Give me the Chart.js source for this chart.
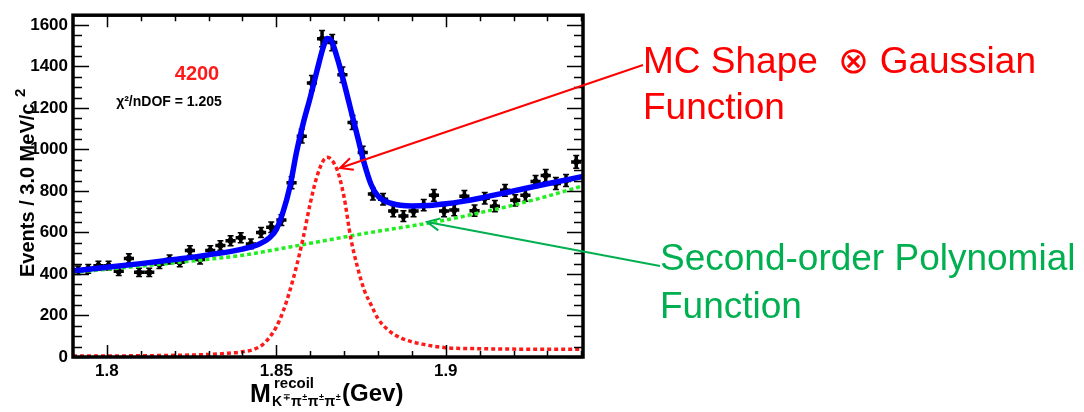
<!DOCTYPE html>
<html>
<head>
<meta charset="utf-8">
<script src="https://cdn.jsdelivr.net/npm/chart.js@4.4.0/dist/chart.umd.min.js"></script>
<style>
html, body { margin: 0; padding: 0; background: #fff; }
canvas { display: block; }
</style>
</head>
<body>
<canvas id="c" width="1084" height="412"></canvas>
<script>
// bin centres (3 MeV bins)
var binX = [1.7915,1.7945,1.7975,1.8005,1.8035,1.8065,1.8095,1.8125,1.8155,1.8185,
            1.8215,1.8245,1.8275,1.8305,1.8335,1.8365,1.8395,1.8425,1.8455,1.8485,
            1.8515,1.8545,1.8575,1.8605,1.8635,1.8665,1.8695,1.8725,1.8755,1.8785,
            1.8815,1.8845,1.8875,1.8905,1.8935,1.8965,1.8995,1.9025,1.9055,1.9085,
            1.9115,1.9145,1.9175,1.9205,1.9235,1.9265,1.9295,1.9325,1.9355,1.9385];
var events = [418,425,440,440,413,475,408,408,447,470,
              456,513,470,513,537,560,575,545,600,625,
              660,840,1064,1320,1534,1515,1360,1130,985,785,
              760,703,679,703,732,779,703,708,774,705,
              765,727,803,755,779,846,874,836,850,940];
var errors = [20,21,21,21,20,22,20,20,21,22,
              21,23,22,23,23,24,24,23,24,25,
              26,29,33,36,39,39,37,34,31,28,
              28,27,26,27,27,28,27,27,28,27,
              28,27,28,27,28,29,30,29,29,31];

// total fit (blue)
var fitX = [1.790,1.800,1.810,1.820,1.830,1.840,1.845,1.848,1.850,1.852,1.854,1.856,1.858,1.860,1.862,
            1.864,1.865,1.866,1.868,1.870,1.872,1.874,1.876,1.878,1.880,1.884,1.890,1.895,1.900,1.905,
            1.910,1.920,1.930,1.9405];
var fitY = [415,432,450,470,492,520,545,575,615,700,820,990,1130,1250,1380,
            1500,1535,1530,1440,1320,1190,1060,930,830,775,740,728,730,738,750,
            765,800,835,870];

// background polynomial (green)
var bkgX = [1.790,1.800,1.810,1.820,1.830,1.840,1.850,1.860,1.870,1.880,1.890,1.900,1.910,1.920,1.930,1.9405];
var bkgY = [408,423,438,454,471,490,518,548,578,606,632,660,695,732,775,825];

// signal shape (red)
var sigX = [1.790,1.800,1.810,1.820,1.830,1.835,1.840,1.843,1.846,1.848,1.850,1.852,1.854,1.856,1.858,
            1.860,1.862,1.864,1.865,1.866,1.868,1.870,1.872,1.874,1.876,1.878,1.880,1.883,1.887,1.893,
            1.900,1.910,1.920,1.9405];
var sigY = [5,5,6,8,12,17,25,35,60,95,145,220,320,440,580,
            740,870,950,962,955,900,770,570,430,320,250,185,130,90,62,
            45,40,38,37];

var yTicks = [0,200,400,600,800,1000,1200,1400,1600];
var xTicks = [1.8,1.85,1.9];

var FONT = '"Liberation Sans", Arial, Helvetica, sans-serif';

function pairs(xs, ys) {
    return xs.map(function(x, i) { return {x: x, y: ys[i]}; });
}

var rootStyle = {
    id: 'rootStyle',
    beforeDatasetsDraw: function(chart) {
        var ctx = chart.ctx, xs = chart.scales.x, ys = chart.scales.y;
        ctx.save();
        ctx.strokeStyle = '#000';
        binX.forEach(function(x, i) {
            var px = xs.getPixelForValue(x);
            var py = ys.getPixelForValue(events[i]);
            var top = ys.getPixelForValue(events[i] + errors[i]);
            var bot = ys.getPixelForValue(events[i] - errors[i]);
            var l = xs.getPixelForValue(x - 0.0015), r = xs.getPixelForValue(x + 0.0015);
            ctx.lineWidth = 3.5;
            ctx.beginPath();
            ctx.moveTo(px, top); ctx.lineTo(px, bot);
            ctx.moveTo(l, py); ctx.lineTo(r, py);
            ctx.stroke();
            ctx.lineWidth = 1.5;
            ctx.beginPath();
            ctx.moveTo(px - 3, top); ctx.lineTo(px + 3, top);
            ctx.moveTo(px - 3, bot); ctx.lineTo(px + 3, bot);
            ctx.stroke();
        });
        ctx.restore();
    },
    afterDraw: function(chart) {
        var ctx = chart.ctx, a = chart.chartArea, xs = chart.scales.x, ys = chart.scales.y;
        ctx.save();
        // frame
        ctx.strokeStyle = '#000';
        ctx.lineWidth = 3.5;
        ctx.strokeRect(a.left, a.top, a.right - a.left, a.bottom - a.top);
        // inward ticks
        ctx.lineWidth = 1.5;
        ctx.beginPath();
        for (var v = 0; v <= 1647; v += 50) {
            var py = Math.round(ys.getPixelForValue(v)) + 0.5;
            var len = (v % 200 === 0) ? 16 : 9;
            ctx.moveTo(a.left, py); ctx.lineTo(a.left + len, py);
            ctx.moveTo(a.right, py); ctx.lineTo(a.right - len, py);
        }
        for (var k = 180; k <= 194; k++) {
            var px = Math.round(xs.getPixelForValue(k / 100)) + 0.5;
            var l2 = (k % 5 === 0) ? 12 : 6;
            ctx.moveTo(px, a.bottom); ctx.lineTo(px, a.bottom - l2);
            ctx.moveTo(px, a.top); ctx.lineTo(px, a.top + l2);
        }
        ctx.stroke();

        // y axis title
        ctx.fillStyle = '#000';
        ctx.save();
        ctx.translate(34, 277);
        ctx.rotate(-Math.PI / 2);
        ctx.font = 'bold 20px ' + FONT;
        ctx.textAlign = 'left';
        ctx.textBaseline = 'alphabetic';
        ctx.fillText('Events / 3.0 MeV/c', 0, 0);
        ctx.font = 'bold 15px ' + FONT;
        ctx.fillText('2', 180, -9);
        ctx.restore();

        // x axis title
        ctx.textAlign = 'left';
        ctx.font = 'bold 25px ' + FONT;
        ctx.fillText('M', 250, 402);
        ctx.font = 'bold 15px ' + FONT;
        ctx.fillText('recoil', 274, 388);
        var sx = 272;
        var parts = [['K', 14, 0], ['\u2213', 9, -6], ['\u03c0', 14, 0], ['\u00b1', 9, -6],
                     ['\u03c0', 14, 0], ['\u00b1', 9, -6], ['\u03c0', 14, 0], ['\u00b1', 9, -6]];
        parts.forEach(function(p) {
            ctx.font = 'bold ' + p[1] + 'px ' + FONT;
            ctx.fillText(p[0], sx, 406 + p[2]);
            sx += ctx.measureText(p[0]).width + 0.5;
        });
        ctx.font = 'bold 24px ' + FONT;
        ctx.fillText('(Gev)', sx + 1, 401);

        // labels inside the frame
        ctx.textAlign = 'center';
        ctx.fillStyle = '#ff1a1a';
        ctx.font = 'bold 20px ' + FONT;
        ctx.fillText('4200', 197, 80);
        ctx.fillStyle = '#000';
        ctx.font = 'bold 14px ' + FONT;
        ctx.fillText('\u03c7\u00b2/nDOF = 1.205', 169, 106);

        // annotations
        function arrow(x1, y1, x2, y2, color) {
            ctx.strokeStyle = color;
            ctx.lineWidth = 2;
            ctx.beginPath();
            ctx.moveTo(x1, y1); ctx.lineTo(x2, y2);
            var ang = Math.atan2(y2 - y1, x2 - x1);
            var h = 14;
            ctx.moveTo(x2 - h * Math.cos(ang - 0.45), y2 - h * Math.sin(ang - 0.45));
            ctx.lineTo(x2, y2);
            ctx.lineTo(x2 - h * Math.cos(ang + 0.45), y2 - h * Math.sin(ang + 0.45));
            ctx.stroke();
        }
        arrow(643, 65, 340, 168, '#ff0000');
        arrow(660, 266, 427, 222, '#00b050');

        ctx.textAlign = 'left';
        ctx.font = '37px ' + FONT;
        ctx.fillStyle = '#ff0000';
        ctx.fillText('MC Shape  \u2297 Gaussian', 643, 73);
        ctx.fillText('Function', 643, 119);
        ctx.fillStyle = '#00b050';
        ctx.fillText('Second-order Polynomial', 660, 270);
        ctx.fillText('Function', 660, 318);
        ctx.restore();
    }
};

new Chart('c', {
    type: 'scatter',
    data: {
        datasets: [{
            label: 'data',
            data: pairs(binX, events),
            pointStyle: 'rect',
            pointRadius: 3,
            backgroundColor: '#000',
            borderColor: '#000',
            order: 4
        }, {
            label: 'background',
            data: pairs(bkgX, bkgY),
            showLine: true,
            borderColor: '#22ee22',
            borderWidth: 3.5,
            borderDash: [4, 3],
            pointRadius: 0,
            cubicInterpolationMode: 'monotone',
            order: 3
        }, {
            label: 'signal',
            data: pairs(sigX, sigY),
            showLine: true,
            borderColor: '#ff1a1a',
            borderWidth: 3.5,
            borderDash: [4, 3],
            pointRadius: 0,
            cubicInterpolationMode: 'monotone',
            order: 2
        }, {
            label: 'total',
            data: pairs(fitX, fitY),
            showLine: true,
            borderColor: '#0000ff',
            borderWidth: 5.5,
            pointRadius: 0,
            cubicInterpolationMode: 'monotone',
            order: 1
        }]
    },
    options: {
        responsive: false,
        animation: false,
        layout: { padding: { top: 9, right: 501, left: 0, bottom: 0 } },
        plugins: {
            legend: { display: false },
            tooltip: { enabled: false }
        },
        scales: {
            x: {
                type: 'linear',
                min: 1.79,
                max: 1.9405,
                grid: { display: false, drawTicks: false },
                border: { display: false },
                afterFit: function(s) { s.height = 55; },
                afterBuildTicks: function(s) { s.ticks = xTicks.map(function(v) { return {value: v}; }); },
                ticks: {
                    color: '#000',
                    padding: 4,
                    maxRotation: 0,
                    autoSkip: false,
                    font: { family: FONT, size: 17, weight: 'bold' },
                    callback: function(v) { return String(v); }
                }
            },
            y: {
                min: 0,
                max: 1647,
                grid: { display: false, drawTicks: false },
                border: { display: false },
                afterFit: function(s) { s.width = 73; },
                afterBuildTicks: function(s) { s.ticks = yTicks.map(function(v) { return {value: v}; }); },
                ticks: {
                    color: '#000',
                    padding: 5,
                    font: { family: FONT, size: 17, weight: 'bold' },
                    callback: function(v) { return String(v); }
                }
            }
        }
    },
    plugins: [rootStyle]
});
</script>
</body>
</html>
